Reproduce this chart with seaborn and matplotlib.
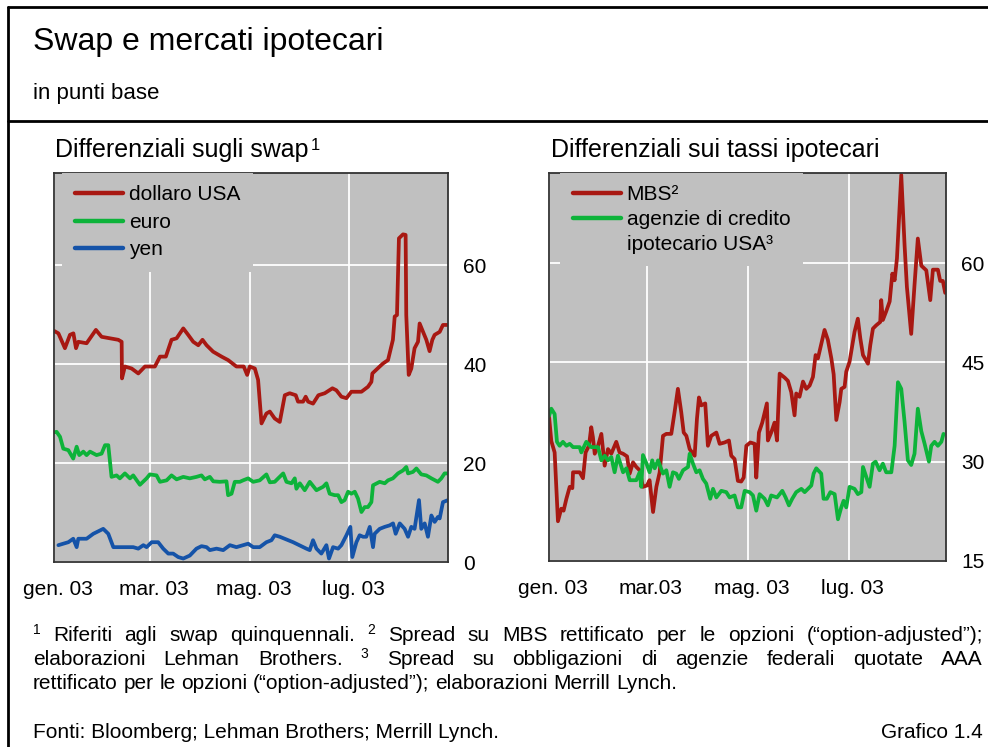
import numpy as np
import pandas as pd
import matplotlib
matplotlib.use('Agg')
import matplotlib.pyplot as plt
import matplotlib.transforms as mtransforms
import seaborn as sns
from matplotlib.lines import Line2D

sns.set_style('white')
plt.rcParams['font.family'] = ['Liberation Sans', 'DejaVu Sans']
plt.rcParams['text.color'] = 'black'
plt.rcParams['xtick.color'] = 'black'
plt.rcParams['ytick.color'] = 'black'
plt.rcParams['xtick.labelcolor'] = 'black'
plt.rcParams['ytick.labelcolor'] = 'black'

# ---------------- data (days after 1 Jan 2003, basis points) ----------------
usd_days = [0, 2.7, 6.7, 9.8, 11.9, 13.5, 14.9, 20, 25.7, 29.2, 34.3, 39.4, 41.5, 41.7, 43.5, 47.6, 51.7, 55.8, 61.9, 65,
            68.6, 72.1, 75.2, 79.3, 82.3, 85.4, 88.5, 91.1, 93.6, 97.6, 102.8, 106.8, 111.9, 116.4, 118.5, 120.1, 123.2,
            125.2, 127.3, 130.3, 132.4, 135.4, 138.5, 141.6, 144.6, 148.3, 149.7, 152.8, 154.4, 155.9, 158.9, 162.2,
            166.1, 170.8, 173.2, 176.3, 179.4, 182.4, 188.6, 192.6, 194.7, 195.3, 199.8, 201.8, 204.9, 207.9, 209,
            210.4, 211.6, 214.1, 215.7, 216.1, 217.6, 219.2, 221.2, 223.3, 224.3, 226.4, 228.4, 230.4, 232.1, 233.5,
            236.6, 238.6, 241.7]
usd_vals = [46.7, 46.2, 43.2, 45.9, 46.2, 43.2, 44.5, 44.2, 46.9, 45.5, 45.2, 44.9, 44.5, 37.1, 39.5, 39.1, 38.1, 39.5,
            39.5, 41.5, 41.5, 44.9, 45.2, 47.2, 45.9, 44.5, 43.8, 44.9, 43.8, 42.5, 41.5, 40.8, 39.5, 39.5, 37.8, 39.5,
            39.1, 36.8, 28.0, 30.0, 30.4, 29.0, 28.3, 33.7, 34.1, 33.7, 32.4, 32.4, 33.4, 32.4, 32.0, 33.7, 34.1, 35.1,
            34.7, 33.4, 33.1, 34.4, 34.4, 35.4, 36.4, 38.1, 39.5, 40.1, 40.8, 44.9, 49.6, 49.9, 65.4, 66.2, 66.1, 49.9,
            37.8, 39.1, 43.2, 44.5, 48.2, 46.5, 44.9, 42.6, 44.9, 45.9, 46.5, 47.9, 47.9]

eur_days = [0, 1.6, 3.7, 5.7, 8.8, 11.8, 13.9, 15.5, 18, 20, 22.1, 26.1, 29.2, 31.3, 33.3, 35.3, 38.4, 40.4, 43.5, 46.6,
            48.6, 52.7, 56.8, 58.8, 62.9, 65, 69.1, 72.1, 75.2, 79.3, 83.3, 87.4, 90.5, 92.5, 95.6, 97.7, 101.7, 105.8,
            106.8, 108.9, 110.9, 114, 116, 119.1, 122.2, 126.2, 130.3, 132.4, 135.4, 137.5, 140.6, 142.6, 145.7, 147.7,
            148.7, 150.8, 153.8, 156.9, 161, 165.1, 167.1, 169.1, 172.2, 174.3, 176.3, 178.3, 180.4, 182.4, 184.5,
            186.5, 188.6, 190.6, 192.6, 194.7, 195.7, 199.8, 202.9, 204.9, 207.9, 211, 214.1, 216.1, 217.2, 220.2,
            222.3, 225.3, 228.4, 231.5, 235.5, 237.6, 239.6, 241.7]
eur_vals = [26.2, 26.3, 25.3, 22.9, 22.6, 20.9, 23.3, 21.6, 22.3, 21.6, 22.3, 21.6, 21.9, 23.6, 23.6, 17.2, 17.5, 16.9,
            17.9, 16.9, 17.5, 15.6, 16.9, 17.7, 17.5, 16.2, 16.5, 17.5, 16.7, 17.2, 16.9, 17.2, 17.5, 16.7, 17.2, 16.3,
            16.2, 16.3, 13.5, 13.8, 16.2, 16.2, 16.5, 16.9, 16.2, 16.5, 17.7, 16.1, 16.2, 16.9, 17.9, 16.2, 15.9, 16.9,
            14.8, 15.9, 14.5, 16.2, 14.5, 15.2, 15.9, 13.8, 13.5, 13.5, 12.1, 12.5, 14.2, 13.8, 14.2, 12.8, 10.1, 11.1,
            11.1, 12.1, 15.5, 16.2, 15.9, 16.5, 16.9, 17.9, 18.5, 19.2, 17.9, 18.2, 18.9, 17.7, 17.5, 16.9, 16.2, 16.9,
            17.9, 17.9]

yen_days = [2.7, 5.7, 8.8, 11.8, 13.9, 14.9, 20, 24.1, 30.2, 33.3, 36.4, 42.5, 48.6, 51.7, 54.8, 56.8, 59.9, 63.9, 67,
            70.1, 73.1, 76.2, 79.3, 83.3, 87.4, 90.5, 93.6, 95.6, 99.7, 103.8, 107.9, 111.9, 116, 119.1, 122.2, 126.2,
            130.3, 133.4, 135.4, 138.5, 146.7, 154.8, 156.9, 158.9, 161, 164, 167.1, 168.7, 171.2, 174.3, 176.3, 179.4,
            181.8, 183, 185.5, 187.5, 189.6, 191.6, 193.7, 195.7, 196.7, 199.8, 202.9, 205.9, 208, 209.6, 212.1, 215.1,
            217.2, 219.2, 221.2, 223.9, 225.3, 227.4, 229.4, 231.5, 233.5, 235.5, 236.6, 238.6, 241.7]
yen_vals = [3.4, 3.7, 4.0, 4.7, 3.0, 4.7, 4.7, 5.7, 6.7, 5.7, 3.0, 3.0, 3.0, 2.7, 3.4, 3.0, 4.0, 4.0, 2.7, 1.7, 1.7, 1.0,
            0.7, 1.3, 2.7, 3.2, 3.0, 2.4, 2.7, 2.4, 3.4, 3.0, 3.4, 3.7, 3.0, 3.0, 4.0, 4.4, 5.4, 5.1, 4.0, 2.7, 2.4, 4.4,
            2.7, 1.7, 3.4, 0.7, 3.0, 2.7, 3.4, 5.4, 7.1, 1.0, 4.0, 5.4, 5.1, 5.1, 7.1, 3.0, 5.7, 6.7, 7.1, 7.4, 7.8, 5.7,
            7.8, 6.7, 5.1, 7.1, 6.7, 12.5, 6.7, 7.8, 5.1, 9.4, 8.1, 9.1, 8.8, 12.1, 12.5]

mbs_days = [0, 1.4, 3.4, 5.4, 7.4, 8.8, 10.5, 12.5, 14.1, 14.5, 18.5, 20.5, 22.1, 24.1, 25.5, 26.5, 27.6, 29.6, 31.6,
            33.6, 35.6, 37.6, 40.6, 42.6, 44.7, 47.1, 48.7, 50.7, 52.7, 54.7, 56.7, 59.1, 60.7, 62.8, 64.8, 66.8, 68.8,
            70.8, 73.8, 75.8, 77.8, 79.8, 81.3, 82.9, 84.9, 87.9, 89.3, 90.5, 91.9, 94.3, 95.9, 97.9, 101, 103, 106,
            108.6, 110, 112, 114, 116, 117.5, 119.1, 121.5, 124.1, 125.1, 126.7, 128.7, 131.5, 132.1, 134.1, 136.1,
            137.6, 139.2, 142.2, 144.2, 146.2, 148.2, 149.2, 151.2, 153.3, 155.3, 157.3, 159.3, 160.9, 162.3, 166.3,
            168.3, 170.4, 171.8, 173.4, 175.4, 176.4, 178.4, 179.4, 181.4, 184.4, 186.4, 187.9, 189.5, 192.5, 193.9,
            195.5, 197.5, 199.9, 200.5, 201.5, 203.5, 205.6, 207.2, 208.6, 210, 212.6, 214.6, 216, 218.6, 220.6, 222.6,
            224.7, 227.7, 230.1, 231.7, 234.7, 236.1, 237.7, 239.1]
mbs_vals = [36.9, 33.1, 31.4, 21.0, 22.9, 22.6, 24.4, 26.2, 26.0, 28.4, 28.4, 27.5, 31.4, 32.4, 35.2, 33.7, 31.2, 32.4,
            34.2, 29.4, 31.9, 31.2, 33.0, 31.4, 31.2, 30.8, 28.2, 29.9, 29.2, 28.7, 26.2, 26.4, 27.2, 22.4, 26.2, 28.4,
            33.9, 34.2, 34.2, 37.5, 41.0, 37.5, 34.4, 33.9, 31.9, 30.9, 36.5, 39.7, 38.5, 38.8, 32.4, 33.9, 34.4, 32.7,
            32.9, 33.2, 30.9, 30.4, 27.1, 27.0, 27.6, 32.4, 32.9, 32.7, 27.6, 34.4, 35.9, 38.8, 33.2, 34.4, 35.9, 33.2,
            43.3, 42.7, 42.2, 40.5, 37.0, 40.3, 39.8, 42.1, 41.0, 41.5, 42.8, 46.1, 45.6, 49.9, 48.4, 45.6, 43.2, 36.3,
            39.0, 41.0, 41.3, 43.6, 45.1, 49.6, 51.6, 48.6, 46.1, 44.8, 47.6, 50.1, 50.6, 51.1, 54.4, 51.4, 52.7, 54.2,
            58.4, 57.4, 60.7, 73.3, 62.7, 56.4, 49.3, 56.7, 63.7, 59.6, 58.9, 54.4, 59.0, 59.0, 57.3, 57.3, 55.5]

age_days = [0, 1.4, 3.4, 4.8, 6.4, 8.4, 10.5, 12.5, 14.5, 18.5, 19.5, 22.5, 25.5, 29.6, 31.6, 33.6, 35.6, 37.6, 39.6,
            41.6, 44.7, 46.7, 48.7, 52.7, 54.7, 55.7, 56.7, 58.7, 60.7, 62.3, 63.8, 65.8, 68.8, 70.8, 72.8, 74.8, 76.8,
            78.4, 80.9, 83.9, 84.9, 86.9, 88.9, 90.9, 92.9, 94.9, 97.3, 99, 101, 104, 107, 109, 112, 114, 116, 118.1,
            121.1, 123.1, 125.1, 127.1, 130.1, 132.1, 134.1, 137.6, 140.8, 142.8, 144.8, 146.8, 149.2, 152.3, 154.3,
            156.3, 158.3, 159.7, 161.3, 164.3, 165.7, 167.7, 169.8, 172.4, 174.4, 176.4, 177.8, 179.4, 181.4, 184.4,
            186.4, 188.5, 189.5, 191.5, 193.5, 195.5, 197.1, 199.5, 201.5, 203.5, 206.6, 208.6, 210.6, 212.6, 214.6,
            216.6, 218.6, 220.6, 222.6, 224.7, 226.7, 229.3, 230.7, 232.7, 234.7, 236.8, 238.1]
age_vals = [36.9, 38.0, 37.2, 33.0, 32.4, 33.0, 32.4, 32.7, 32.2, 32.2, 31.4, 33.0, 32.2, 32.2, 30.2, 30.9, 30.2, 30.7,
            28.4, 30.9, 28.4, 29.0, 27.2, 27.2, 28.4, 26.2, 31.0, 29.8, 28.4, 30.2, 29.0, 30.2, 28.2, 28.7, 26.2, 28.4,
            28.2, 27.4, 28.7, 29.2, 31.2, 29.7, 28.4, 28.7, 27.4, 26.7, 24.4, 25.9, 24.6, 25.6, 25.4, 24.6, 24.9, 23.1,
            23.1, 25.6, 25.4, 24.9, 22.6, 25.1, 24.4, 23.4, 24.9, 24.6, 25.6, 24.6, 23.4, 24.4, 25.4, 25.9, 25.4, 25.9,
            26.4, 28.2, 29.0, 28.2, 24.4, 24.4, 25.4, 25.1, 21.3, 23.1, 24.1, 23.1, 26.2, 25.9, 25.1, 25.4, 29.2, 27.7,
            26.2, 29.7, 30.0, 28.7, 29.7, 28.4, 28.4, 32.4, 42.0, 41.0, 36.0, 30.2, 29.5, 31.2, 38.0, 34.6, 32.7, 30.0,
            32.4, 33.0, 32.4, 33.0, 34.2]

left_labels = ['dollaro USA', 'euro', 'yen']
right_labels = ['MBS²', 'agenzie di credito', 'ipotecario USA³']
tick_dates = ['2003-01-01', '2003-03-01', '2003-05-01', '2003-07-01']
left_xticklabels = ['gen. 03', 'mar. 03', 'mag. 03', 'lug. 03']
right_xticklabels = ['gen. 03', 'mar.03', 'mag. 03', 'lug. 03']
left_yticks = [0, 20, 40, 60]
right_yticks = [15, 30, 45, 60]

RED, GREEN, BLUE = '#a81812', '#0db33a', '#1553a8'
BG = '#c0c0c0'

START = pd.Timestamp('2003-01-01')


def to_dates(days):
    return START + pd.to_timedelta(np.array(days, dtype=float), unit='D')


def make_df(parts):
    frames = []
    for name, d, v in parts:
        frames.append(pd.DataFrame({'date': to_dates(d), 'value': v, 'serie': name}))
    return pd.concat(frames, ignore_index=True)


W, H = 988, 747
fig = plt.figure(figsize=(W / 100, H / 100), dpi=100)


def fx(px):
    return px / W


def fy(py):
    return 1 - py / H


ax1 = fig.add_axes([fx(54), fy(562), (448 - 54) / W, (562 - 173) / H])
ax2 = fig.add_axes([fx(549), fy(561), (946 - 549) / W, (561 - 173) / H])

df_left = make_df([(left_labels[0], usd_days, usd_vals),
                   (left_labels[1], eur_days, eur_vals),
                   (left_labels[2], yen_days, yen_vals)])
df_right = make_df([(right_labels[0], mbs_days, mbs_vals),
                    (right_labels[1], age_days, age_vals)])

sns.lineplot(data=df_left, x='date', y='value', hue='serie',
             palette={left_labels[0]: RED, left_labels[1]: GREEN, left_labels[2]: BLUE},
             estimator=None, lw=2.7, legend=False, ax=ax1)
sns.lineplot(data=df_right, x='date', y='value', hue='serie',
             palette={right_labels[0]: RED, right_labels[1]: GREEN},
             estimator=None, lw=2.7, legend=False, ax=ax2)

shift = mtransforms.ScaledTranslation(4 / 100, 0, fig.dpi_scale_trans)
for ax, xl, yt, ylim, xend in [(ax1, left_xticklabels, left_yticks, (0, 78.6), 241.7),
                               (ax2, right_xticklabels, right_yticks, (15, 73.6), 239.6)]:
    ax.set_facecolor(BG)
    ax.set_xlim(START, START + pd.Timedelta(days=xend))
    ax.set_ylim(*ylim)
    ax.set_xticks(pd.to_datetime(tick_dates))
    ax.set_xticklabels(xl)
    ax.yaxis.tick_right()
    ax.set_yticks(yt)
    ax.set_yticklabels([str(v) for v in yt])
    ax.tick_params(axis='x', length=0, labelsize=15, pad=13, labelcolor='black')
    ax.tick_params(axis='y', length=0, labelsize=15, pad=11, labelcolor='black')
    for lbl in ax.get_xticklabels():
        lbl.set_transform(lbl.get_transform() + shift)
    ax.set_xlabel('')
    ax.set_ylabel('')
    ax.grid(True, color='white', lw=1.3)
    ax.set_axisbelow(True)
    for s in ax.spines.values():
        s.set_visible(True)
        s.set_color('#333333')
        s.set_linewidth(1.3)

h1 = [Line2D([], [], color=RED, lw=3.2), Line2D([], [], color=GREEN, lw=3.2), Line2D([], [], color=BLUE, lw=3.2)]
leg1 = ax1.legend(h1, left_labels, loc='upper left', bbox_to_anchor=(8 / 394, 1.0), borderaxespad=0,
                  fontsize=15, handlelength=2.35, handletextpad=0.25, labelspacing=0.4, borderpad=0.6,
                  frameon=True, facecolor=BG, edgecolor='none', framealpha=1, fancybox=False,
                  labelcolor='black')
h2 = [Line2D([], [], color=RED, lw=3.2), Line2D([], [], color=GREEN, lw=3.2), Line2D([], [], color='none', lw=0)]
leg2 = ax2.legend(h2, right_labels, loc='upper left', bbox_to_anchor=(11 / 397, 1.0), borderaxespad=0,
                  fontsize=15, handlelength=2.35, handletextpad=0.25, labelspacing=0.27, borderpad=0.6,
                  frameon=True, facecolor=BG, edgecolor='none', framealpha=1, fancybox=False,
                  labelcolor='black')

# ---------------- titles and frame ----------------
fig.text(fx(33), fy(42), 'Swap e mercati ipotecari', fontsize=23, va='center')
fig.text(fx(33), fy(93), 'in punti base', fontsize=16, va='center')
sub1 = fig.text(fx(55), fy(150), 'Differenziali sugli swap', fontsize=18, va='center')
fig.text(fx(551), fy(150), 'Differenziali sui tassi ipotecari', fontsize=18, va='center')

for xs, ys in [([8, W], [7, 7]), ([8, W], [121, 121]), ([8, 8], [7, H])]:
    fig.add_artist(Line2D([fx(x) for x in xs], [fy(y) for y in ys], color='black', lw=2,
                          transform=fig.transFigure))

fig.canvas.draw()
r = fig.canvas.get_renderer()
bb = sub1.get_window_extent(r)
fig.text(fx(bb.x1 + 2), fy(150), '1', fontsize=12, va='baseline')


def text_w(s, fs):
    t = fig.text(0, 0, s, fontsize=fs)
    w = t.get_window_extent(r).width
    t.remove()
    return w


def place_line(tokens, base, x0, x1, justify):
    widths = [text_w(s, 10 if sup else 15) for s, sup in tokens]
    space = text_w('a a', 15) - text_w('aa', 15)
    gap = (x1 - x0 - sum(widths)) / (len(tokens) - 1) if justify else space
    x = x0
    for (s, sup), w in zip(tokens, widths):
        if sup:
            fig.text(fx(x), fy(base - 7), s, fontsize=10, va='baseline')
        else:
            fig.text(fx(x), fy(base), s, fontsize=15, va='baseline')
        x += w + gap


def words(s):
    return [(w, False) for w in s.split()]


line1 = [('1', True)] + words('Riferiti agli swap quinquennali.') + [('2', True)] + \
    words('Spread su MBS rettificato per le opzioni (“option-adjusted”);')
line2 = words('elaborazioni Lehman Brothers.') + [('3', True)] + \
    words('Spread su obbligazioni di agenzie federali quotate AAA')
line3 = words('rettificato per le opzioni (“option-adjusted”); elaborazioni Merrill Lynch.')
place_line(line1, 641, 33, 983, True)
place_line(line2, 665, 33, 983, True)
place_line(line3, 689, 33, 983, False)

fig.text(fx(33), fy(738), 'Fonti: Bloomberg; Lehman Brothers; Merrill Lynch.', fontsize=15, va='baseline')
fig.text(fx(983), fy(738), 'Grafico 1.4', fontsize=15, va='baseline', ha='right')

fig.savefig('out.png', dpi=100)
